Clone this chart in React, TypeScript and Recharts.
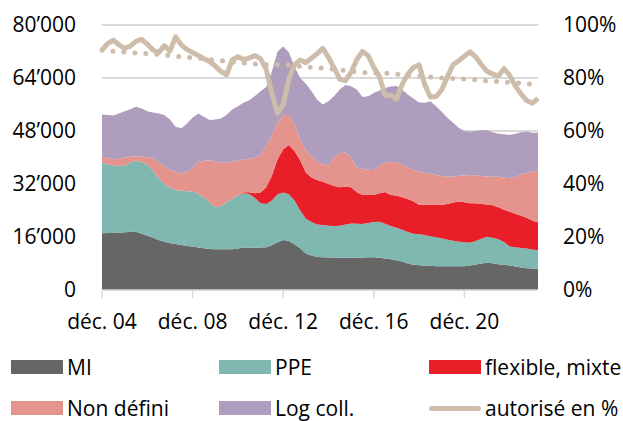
import { AreaChart, Area, Line, XAxis, YAxis, CartesianGrid } from "recharts"

const FONT = "'Open Sans', 'Noto Sans', sans-serif"

// quarterly, déc. 04 .. mars 24
const MONTHS = ["déc.", "mars", "juin", "sept."]
const QUARTERS: string[] = []
for (let i = 0; i < 78; i++) {
  const yr = 4 + Math.floor((i + 3) / 4)
  QUARTERS.push(`${MONTHS[i % 4]} ${String(yr).padStart(2, "0")}`)
}

// values in thousands of dwellings
const MI = [17.1, 17.2, 17.2, 17.3, 17.4, 17.5, 17.6, 17.0, 16.4, 15.8, 15.1, 14.6, 14.2, 13.9, 13.6, 13.3, 13.1, 12.8, 12.6, 12.4, 12.3, 12.3, 12.3, 12.3, 12.5, 12.8, 12.8, 12.7, 12.8, 12.9, 13.5, 14.4, 15.1, 14.8, 13.8, 12.6, 11.0, 10.4, 10.0, 9.9, 9.8, 9.8, 9.7, 9.7, 9.7, 9.7, 9.8, 9.9, 9.9, 9.7, 9.5, 9.3, 9.0, 8.6, 8.0, 7.6, 7.5, 7.4, 7.3, 7.2, 7.2, 7.2, 7.2, 7.2, 7.2, 7.4, 7.7, 8.0, 8.2, 8.1, 7.8, 7.6, 7.4, 7.1, 6.8, 6.6, 6.5, 6.4]
const PPE = [21.3, 20.7, 20.4, 20.1, 20.2, 20.9, 21.4, 21.6, 21.6, 20.2, 18.7, 17.4, 16.6, 16.3, 16.4, 16.5, 16.6, 16.2, 15.4, 14.1, 12.7, 13.0, 14.2, 15.2, 16.0, 16.4, 16.2, 15.1, 13.4, 13.1, 13.5, 14.5, 14.3, 14.1, 13.2, 11.4, 10.5, 10.1, 9.8, 9.7, 9.6, 9.5, 9.7, 10.1, 10.4, 10.3, 10.1, 10.3, 10.6, 10.9, 10.5, 10.0, 9.8, 9.6, 9.5, 9.4, 9.3, 9.2, 8.9, 8.7, 8.4, 8.0, 7.7, 7.4, 7.2, 6.9, 7.1, 7.5, 7.9, 7.7, 7.5, 6.9, 5.7, 5.8, 5.9, 5.9, 5.7, 5.6]
const FLEX = [0, 0, 0, 0, 0, 0, 0, 0, 0, 0, 0, 0, 0, 0, 0, 0, 0, 0, 0, 0, 0, 0, 0, 0, 0, 0.3, 0.5, 1.4, 3.2, 5.0, 7.5, 10.6, 13.1, 14.9, 15.0, 15.2, 14.0, 13.5, 13.4, 13.1, 12.6, 12.1, 11.6, 11.4, 10.9, 9.5, 8.8, 8.5, 8.2, 8.6, 9.6, 9.4, 9.7, 9.8, 10.0, 9.8, 8.9, 9.1, 9.5, 9.9, 10.1, 10.8, 11.5, 12.1, 12.1, 11.9, 11.4, 10.5, 9.7, 9.8, 9.7, 9.7, 10.5, 10.1, 9.7, 9.3, 8.8, 8.4]
const NON_DEF = [1.9, 1.9, 1.9, 2.2, 2.3, 1.8, 1.3, 1.6, 2.1, 4.0, 4.8, 5.4, 5.6, 5.5, 5.2, 5.8, 7.1, 9.7, 11.0, 12.7, 13.9, 13.1, 12.0, 11.3, 10.7, 9.8, 10.2, 10.8, 11.3, 12.5, 12.3, 11.0, 10.3, 9.0, 7.8, 6.3, 6.8, 6.3, 5.6, 5.3, 5.6, 8.6, 10.3, 10.3, 9.0, 7.5, 7.8, 7.6, 7.5, 8.3, 9.0, 10.0, 9.9, 10.0, 9.5, 9.4, 10.0, 9.7, 9.3, 8.9, 8.7, 8.2, 7.9, 7.8, 8.1, 8.5, 8.4, 8.4, 8.5, 8.6, 9.2, 9.7, 10.2, 11.3, 12.5, 13.5, 14.8, 15.6]
const LOG_COLL = [12.7, 13.0, 13.2, 13.7, 14.1, 14.4, 15.0, 14.6, 13.9, 13.6, 14.7, 15.4, 15.1, 13.6, 13.6, 14.7, 15.2, 14.6, 13.3, 12.1, 12.6, 13.4, 14.3, 15.7, 16.3, 17.2, 17.6, 18.6, 19.3, 17.8, 19.2, 21.5, 20.7, 19.0, 17.7, 18.5, 20.0, 19.7, 18.6, 18.0, 19.4, 18.6, 19.2, 20.4, 21.5, 23.5, 21.8, 22.2, 23.3, 22.7, 22.4, 22.7, 23.2, 22.5, 22.0, 21.6, 20.9, 21.1, 22.0, 20.8, 19.4, 17.8, 16.2, 14.5, 13.4, 13.1, 13.4, 13.9, 13.9, 13.4, 13.0, 13.1, 13.0, 12.9, 12.7, 12.5, 11.7, 11.5]
// percent
const AUTORISE = [90.6, 93.0, 94.3, 92.5, 91.2, 92.0, 93.8, 94.6, 92.8, 90.6, 89.6, 92.2, 90.2, 95.5, 92.5, 90.8, 89.6, 88.5, 87.3, 86.2, 84.5, 82.5, 81.2, 86.8, 88.0, 87.0, 87.5, 88.5, 87.2, 83.3, 74.0, 66.8, 70.0, 79.5, 85.0, 86.8, 85.8, 87.5, 89.2, 91.2, 87.8, 83.8, 79.5, 79.0, 82.2, 87.0, 90.0, 88.5, 84.0, 80.5, 73.5, 73.6, 72.0, 77.5, 81.5, 84.0, 85.0, 77.5, 72.8, 73.0, 75.5, 80.5, 85.0, 86.5, 88.2, 89.9, 88.0, 85.0, 82.5, 81.5, 80.8, 83.5, 81.0, 77.0, 74.0, 71.5, 70.5, 72.3]
const MOYENNE = [90.5, 90.3, 90.1, 89.9, 89.8, 89.6, 89.4, 89.3, 89.2, 89.0, 88.9, 88.7, 88.5, 88.2, 88.0, 87.8, 87.6, 87.4, 87.2, 87.0, 86.8, 86.6, 86.3, 86.1, 85.9, 85.7, 85.5, 85.3, 85.2, 85.1, 85.0, 85.0, 85.0, 84.9, 84.6, 84.4, 84.2, 84.0, 83.8, 83.7, 83.5, 83.3, 83.0, 82.8, 82.6, 82.4, 82.1, 82.0, 81.9, 81.9, 81.8, 81.7, 81.5, 81.3, 81.1, 80.9, 80.7, 80.5, 80.4, 80.2, 80.0, 79.9, 79.8, 79.7, 79.6, 79.5, 79.3, 79.1, 78.9, 78.8, 78.6, 78.5, 78.4, 78.2, 78.0, 77.8, 77.6, 77.5]

const LEFT_TICKS = [0, 16, 32, 48, 64, 80]
const RIGHT_TICKS = [0, 20, 40, 60, 80, 100]

const COL = {
  mi: "#666666",
  ppe: "#7fb8b1",
  flex: "#e81f29",
  nd: "#e5948d",
  lc: "#ae9dbd",
  line: "#cdbdaa",
}

const data = QUARTERS.map((d, i) => ({
  d,
  mi: MI[i],
  ppe: PPE[i],
  flex: FLEX[i],
  nd: NON_DEF[i],
  lc: LOG_COLL[i],
  aut: AUTORISE[i],
  moy: MOYENNE[i],
}))

const LEGEND = [
  { label: "MI", color: COL.mi, x: 11, y: 356 },
  { label: "PPE", color: COL.ppe, x: 219, y: 356 },
  { label: "flexible, mixte", color: COL.flex, x: 429, y: 356 },
  { label: "Non défini", color: COL.nd, x: 11, y: 397 },
  { label: "Log coll.", color: COL.lc, x: 219, y: 397 },
  { label: "autorisé en %", color: COL.line, x: 429, y: 397, line: true },
]

const tickStyle = { fontSize: 21, fill: "#000", fontFamily: FONT }

export default function App() {
  return (
    <div style={{ position: "absolute", left: 0, top: 0, width: 623, height: 421, background: "#fff", fontFamily: FONT }}>
      <AreaChart width={623} height={345} data={data} margin={{ top: 25, right: 0, bottom: 0, left: 0 }}>
        <CartesianGrid vertical={false} stroke="#d9d9d9" strokeWidth={2} yAxisId="left" />
        <XAxis
          dataKey="d"
          interval={15}
          tick={tickStyle}
          tickSize={8}
          tickMargin={16}
          height={55}
          stroke="#d9d9d9"
          axisLine={{ stroke: "#d9d9d9", strokeWidth: 1.5 }}
          tickLine={{ stroke: "#d9d9d9", strokeWidth: 1.5 }}
        />
        <YAxis
          yAxisId="left"
          domain={[0, 80]}
          ticks={LEFT_TICKS}
          width={102}
          tick={tickStyle}
          tickSize={0}
          tickMargin={26}
          axisLine={false}
          tickLine={false}
          tickFormatter={(v: number) => (v === 0 ? "0" : `${v}’000`)}
        />
        <YAxis
          yAxisId="right"
          orientation="right"
          domain={[0, 100]}
          ticks={RIGHT_TICKS}
          width={85}
          tick={{ ...tickStyle, textAnchor: "start" }}
          tickSize={0}
          tickMargin={25}
          axisLine={false}
          tickLine={false}
          tickFormatter={(v: number) => `${v}%`}
        />
        <Area yAxisId="left" type="linear" dataKey="mi" stackId="a" stroke="none" fill={COL.mi} fillOpacity={1} isAnimationActive={false} />
        <Area yAxisId="left" type="linear" dataKey="ppe" stackId="a" stroke="none" fill={COL.ppe} fillOpacity={1} isAnimationActive={false} />
        <Area yAxisId="left" type="linear" dataKey="flex" stackId="a" stroke="none" fill={COL.flex} fillOpacity={1} isAnimationActive={false} />
        <Area yAxisId="left" type="linear" dataKey="nd" stackId="a" stroke="none" fill={COL.nd} fillOpacity={1} isAnimationActive={false} />
        <Area yAxisId="left" type="linear" dataKey="lc" stackId="a" stroke="none" fill={COL.lc} fillOpacity={1} isAnimationActive={false} />
        <Line yAxisId="right" type="linear" dataKey="moy" stroke={COL.line} strokeWidth={5} strokeDasharray="0 11" strokeLinecap="round" dot={false} isAnimationActive={false} />
        <Line yAxisId="right" type="linear" dataKey="aut" stroke={COL.line} strokeWidth={5} strokeLinejoin="round" dot={false} isAnimationActive={false} />
      </AreaChart>
      {LEGEND.map((l) => (
        <div key={l.label} style={{ position: "absolute", left: l.x, top: l.y, display: "flex", alignItems: "center", height: 22 }}>
          {l.line ? (
            <span style={{ display: "inline-block", width: 52, height: 5, borderRadius: 3, background: l.color }} />
          ) : (
            <span style={{ display: "inline-block", width: 52, height: 14, background: l.color }} />
          )}
          <span style={{ marginLeft: 4, fontSize: 21, color: "#000", lineHeight: "22px" }}>{l.label}</span>
        </div>
      ))}
    </div>
  )
}
